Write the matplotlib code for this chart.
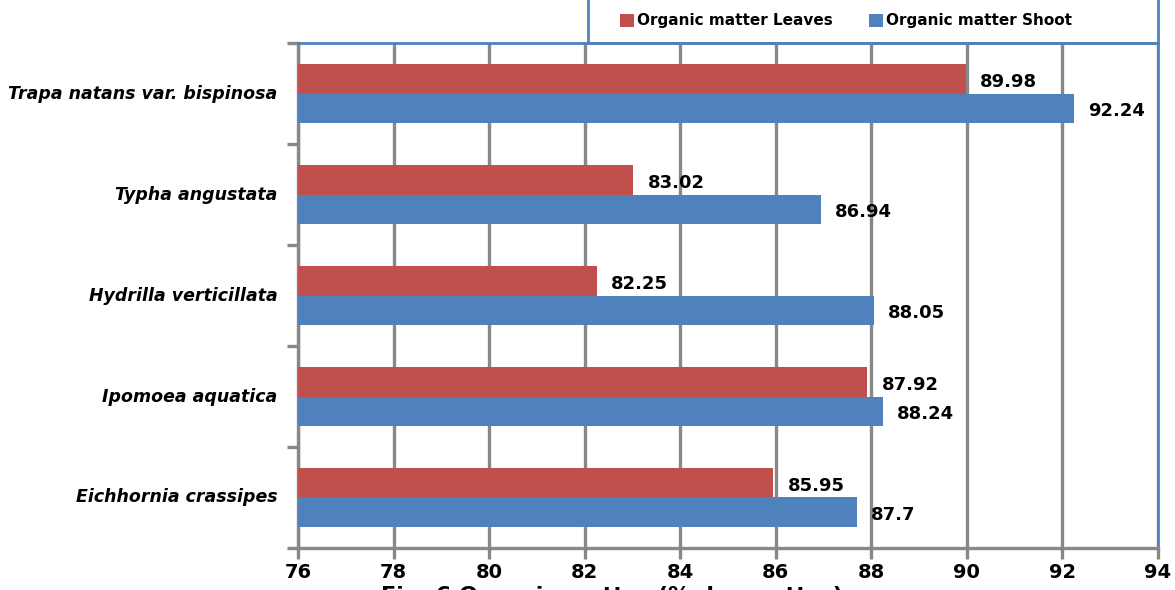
import matplotlib.pyplot as plt
import numpy as np
from matplotlib.patches import Rectangle

# data: organic matter (% dry matter)
species = ["Eichhornia crassipes", "Ipomoea aquatica", "Hydrilla verticillata",
           "Typha angustata", "Trapa natans var. bispinosa"]
leaves = [85.95, 87.92, 82.25, 83.02, 89.98]
shoot = [87.7, 88.24, 88.05, 86.94, 92.24]
xticks = [76, 78, 80, 82, 84, 86, 88, 90, 92, 94]

red = "#C0504D"
blue = "#4F81BD"
grey = "#888888"

fig = plt.figure(figsize=(11.75, 5.9), dpi=100)
ax = fig.add_axes([0.2536, 0.0712, 0.7319, 0.8558])

y = np.arange(len(species))
h = 0.29
ax.barh(y + h / 2, [v - 76 for v in leaves], left=76, height=h, color=red, zorder=3,
        label="Organic matter Leaves")
ax.barh(y - h / 2, [v - 76 for v in shoot], left=76, height=h, color=blue, zorder=3,
        label="Organic matter Shoot")

# value labels
for i in range(len(species)):
    ax.text(leaves[i] + 0.3, y[i] + h / 2 - 0.03, f"{leaves[i]:g}", va="center", ha="left",
            fontsize=13, fontweight="bold", zorder=4)
    ax.text(shoot[i] + 0.3, y[i] - h / 2 - 0.03, f"{shoot[i]:g}", va="center", ha="left",
            fontsize=13, fontweight="bold", zorder=4)

ax.set_xlim(76, 94)
ax.set_ylim(-0.5, len(species) - 0.5)
ax.set_xticks(xticks)
ax.set_xticklabels([str(t) for t in xticks], fontsize=14, fontweight="bold")
ax.xaxis.grid(True, color=grey, linewidth=2.4, zorder=0)
ax.tick_params(axis="x", length=8, width=2.4, color=grey, pad=3, direction="out")

# category labels between the boundary ticks
ax.set_yticks(np.arange(-0.5, len(species), 1.0))
ax.set_yticklabels([])
ax.tick_params(axis="y", length=8, width=2.4, color=grey, direction="out")
for i, name in enumerate(species):
    ax.text(-0.024, y[i], name, transform=ax.get_yaxis_transform(), ha="right", va="center",
            fontsize=12.5, fontweight="bold", style="italic")

ax.spines["left"].set_color(grey)
ax.spines["left"].set_linewidth(2.4)
ax.spines["bottom"].set_color(grey)
ax.spines["bottom"].set_linewidth(2.4)
ax.spines["top"].set_color(blue)
ax.spines["top"].set_linewidth(2)
ax.spines["right"].set_color(blue)
ax.spines["right"].set_linewidth(2)

# legend box above the plot
fig.patches.append(Rectangle((588 / 1175, 0.927), (1158 - 588) / 1175, 0.1,
                             transform=fig.transFigure, fill=False, edgecolor=blue,
                             linewidth=2))
fig.legend(loc="center", bbox_to_anchor=(846 / 1175, 1 - 21 / 590), ncol=2, frameon=False,
           prop={"size": 11, "weight": "bold"}, handlelength=0.9, handleheight=0.9,
           handletextpad=0.2, columnspacing=2.4)

fig.text(612 / 1175, 1 - 586 / 590, "Fig. 6 Organic matter (% dry matter)", ha="center",
         va="top", fontsize=16, fontweight="bold")

fig.savefig("out.png", dpi=100)
